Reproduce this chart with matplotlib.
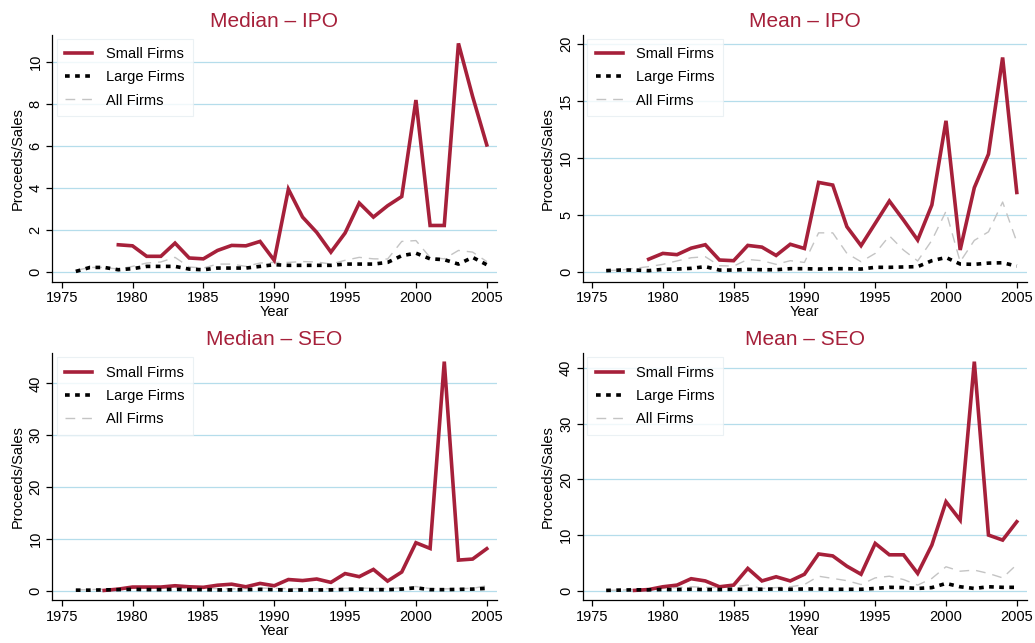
import matplotlib
matplotlib.use("Agg")
import matplotlib.pyplot as plt
import numpy as np

plt.rcParams['font.family'] = ['Liberation Sans', 'DejaVu Sans']

years_all = list(range(1976, 2006))
years_small = list(range(1979, 2006))
years_small_seo = list(range(1978, 2006))

# Median - IPO
med_ipo_small = [1.30, 1.25, 0.75, 0.75, 1.38, 0.67, 0.63, 1.03, 1.27, 1.25, 1.46, 0.56,
                 3.95, 2.62, 1.89, 0.95, 1.86, 3.29, 2.62, 3.16, 3.60, 8.20, 2.22, 2.22,
                 10.90, 8.37, 6.06]
med_ipo_large = [0.03, 0.22, 0.22, 0.11, 0.16, 0.27, 0.27, 0.27, 0.14, 0.11, 0.19, 0.19,
                 0.19, 0.27, 0.35, 0.32, 0.32, 0.32, 0.32, 0.38, 0.38, 0.38, 0.46, 0.78,
                 0.90, 0.63, 0.59, 0.38, 0.70, 0.35]
med_ipo_all = [0.08, 0.22, 0.22, 0.14, 0.27, 0.43, 0.48, 0.70, 0.24, 0.19, 0.38, 0.38,
               0.27, 0.43, 0.46, 0.46, 0.50, 0.48, 0.38, 0.56, 0.70, 0.63, 0.62, 1.46,
               1.50, 0.70, 0.63, 1.03, 0.95, 0.50]

# Mean - IPO
mean_ipo_small = [1.15, 1.66, 1.55, 2.12, 2.42, 1.08, 1.02, 2.36, 2.21, 1.48, 2.46, 2.09,
                  7.88, 7.65, 4.00, 2.34, 4.29, 6.25, 4.58, 2.83, 5.90, 13.28, 1.96, 7.42,
                  10.36, 18.83, 7.00]
mean_ipo_large = [0.15, 0.20, 0.20, 0.15, 0.26, 0.29, 0.35, 0.50, 0.20, 0.20, 0.26, 0.23,
                  0.23, 0.32, 0.32, 0.29, 0.32, 0.32, 0.29, 0.44, 0.44, 0.47, 0.50, 1.02,
                  1.30, 0.73, 0.70, 0.81, 0.84, 0.55]
mean_ipo_all = [0.15, 0.20, 0.35, 0.50, 0.70, 1.00, 1.28, 1.37, 0.58, 0.55, 1.13, 1.02,
                0.70, 1.02, 0.87, 3.46, 3.46, 1.66, 0.93, 1.66, 3.20, 1.95, 1.00, 2.80,
                5.35, 0.93, 2.80, 3.55, 6.16, 2.67]

# Median - SEO
med_seo_small = [0.05, 0.30, 0.70, 0.70, 0.70, 0.95, 0.75, 0.65, 1.05, 1.25, 0.75, 1.40,
                 0.95, 2.15, 1.95, 2.25, 1.60, 3.30, 2.70, 4.10, 1.85, 3.60, 9.25, 8.15,
                 44.20, 5.90, 6.10, 8.10]
med_seo_large = [0.10, 0.10, 0.15, 0.20, 0.25, 0.20, 0.20, 0.25, 0.20, 0.20, 0.15, 0.15,
                 0.20, 0.25, 0.20, 0.10, 0.15, 0.15, 0.15, 0.25, 0.30, 0.20, 0.20, 0.30,
                 0.55, 0.20, 0.20, 0.25, 0.30, 0.45]
med_seo_all = [0.15, 0.20, 0.30, 0.40, 0.45, 0.45, 0.45, 0.50, 0.45, 0.45, 0.40, 0.35,
               0.40, 0.50, 0.45, 0.40, 0.40, 0.40, 0.40, 0.45, 0.50, 0.45, 0.40, 0.55,
               0.80, 0.40, 0.35, 0.40, 0.45, 0.95]

# Mean - SEO
mean_seo_small = [0.05, 0.20, 0.70, 1.00, 2.15, 1.75, 0.70, 1.00, 4.00, 1.75, 2.50, 1.75,
                  2.95, 6.60, 6.25, 4.40, 2.95, 8.50, 6.45, 6.45, 3.10, 8.20, 16.00, 12.70,
                  41.20, 10.00, 9.10, 12.40]
mean_seo_large = [0.05, 0.10, 0.15, 0.15, 0.20, 0.20, 0.25, 0.20, 0.20, 0.25, 0.25, 0.25,
                  0.30, 0.25, 0.30, 0.30, 0.25, 0.25, 0.25, 0.40, 0.60, 0.55, 0.40, 0.55,
                  1.30, 0.70, 0.40, 0.70, 0.60, 0.60]
mean_seo_all = [0.05, 0.10, 0.20, 0.25, 0.40, 0.55, 0.70, 0.60, 0.55, 0.70, 1.00, 0.40,
                0.55, 0.70, 1.10, 2.60, 2.20, 1.80, 1.10, 2.30, 2.60, 2.00, 1.00, 2.20,
                4.30, 3.50, 3.70, 3.10, 2.30, 4.70]

titles = ["Median \u2013 IPO", "Mean \u2013 IPO", "Median \u2013 SEO", "Mean \u2013 SEO"]
yticks = [[0, 2, 4, 6, 8, 10], [0, 5, 10, 15, 20], [0, 10, 20, 30, 40], [0, 10, 20, 30, 40]]
ylims = [(-0.46, 11.3), (-0.82, 20.8), (-1.8, 45.8), (-1.68, 42.7)]
xticks = [1975, 1980, 1985, 1990, 1995, 2000, 2005]

panels = [
    (years_small, med_ipo_small, med_ipo_large, med_ipo_all),
    (years_small, mean_ipo_small, mean_ipo_large, mean_ipo_all),
    (years_small_seo, med_seo_small, med_seo_large, med_seo_all),
    (years_small_seo, mean_seo_small, mean_seo_large, mean_seo_all),
]

RED = '#A6203A'
GRID = '#B5DDEB'
fig = plt.figure(figsize=(10.35, 6.43), dpi=100)
W, H = 1035, 643
rects = [(52.3, 35, 444.4, 246.7), (582.7, 35, 444.0, 246.7),
         (52.3, 353.3, 444.4, 246.7), (582.7, 353.3, 444.0, 246.7)]

for i, (rect, data) in enumerate(zip(rects, panels)):
    l, t, w, h = rect
    ax = fig.add_axes([l / W, (H - t - h) / H, w / W, h / H])
    ys, small, large, allf = data
    ax.plot(ys, small, color=RED, lw=2.6, solid_joinstyle='miter', label='Small Firms', zorder=3)
    ax.plot(years_all, large, color='black', lw=2.6, dashes=(1.3, 1.5),
            dash_capstyle='butt', label='Large Firms', zorder=4)
    ax.plot(years_all, allf, color='#C4C4C4', lw=1.0, dashes=(7, 5), label='All Firms', zorder=2)
    ax.set_xlim(1974.34, 2005.7)
    ax.set_ylim(*ylims[i])
    ax.set_xticks(xticks)
    ax.set_yticks(yticks[i])
    ax.yaxis.grid(True, color=GRID, lw=0.9)
    ax.set_axisbelow(True)
    for s in ['top', 'right']:
        ax.spines[s].set_visible(False)
    for s in ['left', 'bottom']:
        ax.spines[s].set_linewidth(0.9)
    ax.tick_params(direction='out', length=4, width=0.9, labelsize=10.5, pad=3)
    for lab in ax.get_yticklabels():
        lab.set_rotation(90)
        lab.set_va('center')
    ax.set_xlabel('Year', fontsize=10.5, labelpad=0)
    ax.set_ylabel('Proceeds/Sales', fontsize=10.5, labelpad=3)
    ax.set_title(titles[i], color=RED, fontsize=15, pad=6)
    leg = ax.legend(loc='upper left', bbox_to_anchor=(0.010, 0.985), fontsize=10.5,
                    frameon=True, fancybox=False, handlelength=1.85, handletextpad=0.9,
                    labelspacing=0.62, borderpad=0.6, borderaxespad=0)
    leg.get_frame().set_edgecolor('#E6EEF2')
    leg.get_frame().set_linewidth(0.8)

fig.savefig('out.png', dpi=100)
